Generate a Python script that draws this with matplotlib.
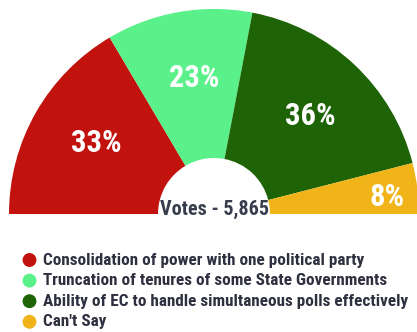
import matplotlib
matplotlib.use("Agg")
import matplotlib.pyplot as plt
from matplotlib.patches import Wedge
import numpy as np

# survey data
labels = [
    "Consolidation of power with one political party",
    "Truncation of tenures of some State Governments",
    "Ability of EC to handle simultaneous polls effectively",
    "Can't Say",
]
shares = [33, 23, 36, 8]
colors = ["#c1120e", "#5af08a", "#1e6407", "#f0b418"]
total_votes = 5865

W, H = 417, 332
fig = plt.figure(figsize=(W / 100, H / 100), dpi=100)
ax = fig.add_axes([0, 0, 1, 1])
ax.set_xlim(0, W)
ax.set_ylim(0, H)
ax.axis("off")

# half donut geometry (pixel units, y up)
cx, cy = 214, 118
r_out, r_in = 205, 56
font = "Roboto Condensed"

start = 180.0
total = sum(shares)
for share, color in zip(shares, colors):
    sweep = share / total * 180.0
    ax.add_patch(Wedge((cx, cy), r_out, start - sweep, start,
                       width=r_out - r_in, facecolor=color, edgecolor="none"))
    mid = np.radians(start - sweep / 2 - 1.5)
    # small slices get their label pushed outwards
    rl = r_out * (0.85 if share < 10 else 0.67)
    ax.text(cx + rl * np.cos(mid), cy + rl * np.sin(mid), f"{share}%",
            color="white", fontsize=22, fontweight="bold", family=font,
            ha="center", va="center")
    start -= sweep

ax.text(cx + 1, cy + 5, f"Votes - {total_votes:,}", color="#383d4d",
        fontsize=14.5, fontweight="bold", family=font,
        ha="center", va="center")

# legend
for i, (lab, color) in enumerate(zip(labels, colors)):
    y = 72 - i * 20.6
    ax.scatter(29.5, y, s=100, color=color, edgecolors="none")
    ax.text(43.5, y, lab, color="#2e3040", fontsize=12.3, fontweight="bold",
            family=font, ha="left", va="center")

fig.savefig("out.png", dpi=100)
